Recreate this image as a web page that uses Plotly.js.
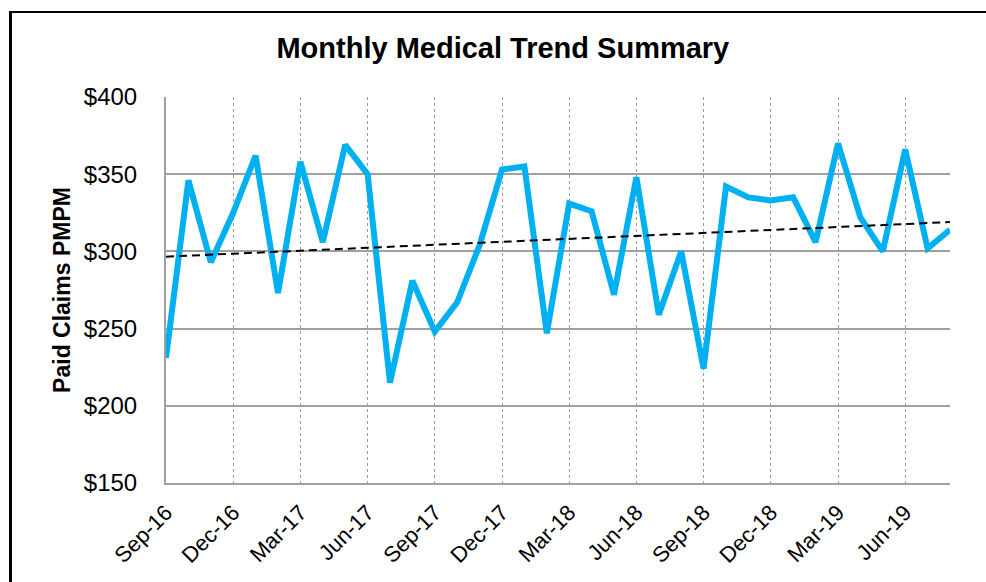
<!DOCTYPE html>
<html>
<head>
<meta charset="utf-8">
<script src="https://cdn.plot.ly/plotly-3.0.1.min.js"></script>
<style>
html,body{margin:0;padding:0;background:#fff;}
#wrap{position:relative;width:986px;height:582px;overflow:hidden;}
#chart{width:986px;height:582px;}
#frame{position:absolute;left:9px;top:11px;width:1000px;height:600px;border-left:3px solid #000;border-top:2px solid #000;pointer-events:none;}
</style>
</head>
<body>
<div id="wrap"><div id="chart"></div><div id="frame"></div></div>
<script>
const months = ["Sep-16","Oct-16","Nov-16","Dec-16","Jan-17","Feb-17","Mar-17","Apr-17","May-17","Jun-17","Jul-17","Aug-17",
"Sep-17","Oct-17","Nov-17","Dec-17","Jan-18","Feb-18","Mar-18","Apr-18","May-18","Jun-18","Jul-18","Aug-18",
"Sep-18","Oct-18","Nov-18","Dec-18","Jan-19","Feb-19","Mar-19","Apr-19","May-19","Jun-19","Jul-19","Aug-19"];
const paidClaims = [231,346,293,325,362,273,358,306,369,350,215,281,
248,267,304,353,355,247,331,326,272,348,259,300,
224,342,335,333,335,306,370,322,300,366,302,314];
const tickLabels = ["Sep-16","Dec-16","Mar-17","Jun-17","Sep-17","Dec-17","Mar-18","Jun-18","Sep-18","Dec-18","Mar-19","Jun-19"];
// linear trendline, endpoints
const trendMonths = ["Sep-16","Aug-19"];
const trendValues = [296.6, 319];

const font = "Liberation Sans, Arial, sans-serif";
const data = [
 {x: months, y: paidClaims, type:'scatter', mode:'lines', line:{color:'#00B0F0', width:6}, hoverinfo:'x+y'},
 {x: trendMonths, y: trendValues, type:'scatter', mode:'lines', line:{color:'#000', width:2, dash:'8px,5px'}, hoverinfo:'skip'}
];
const layout = {
 width:986, height:582,
 margin:{l:166, r:36, t:97, b:99},
 paper_bgcolor:'#fff', plot_bgcolor:'#fff',
 showlegend:false,
 title:{text:'<b>Monthly Medical Trend Summary</b>', font:{family:font, size:29, color:'#000'}, x:0.51, xref:'container', y:0.918, yref:'container', yanchor:'middle'},
 xaxis:{type:'category', categoryarray: months, range:[0, months.length-1], tickvals: tickLabels, ticktext: tickLabels,
   tickangle:-45, tickfont:{family:font, size:22, color:'#000'}, ticklabelstandoff:6,
   showgrid:true, gridcolor:'#9a9a9a', gridwidth:1, griddash:'dot',
   showline:true, linecolor:'#a0a0a0', linewidth:2, ticks:'', zeroline:false, fixedrange:true},
 yaxis:{range:[150,400], dtick:50, tickprefix:'$', tickfont:{family:font, size:24, color:'#000'}, ticklabelstandoff:22,
   showgrid:true, gridcolor:'#a0a0a0', gridwidth:2, showline:true, linecolor:'#a0a0a0', linewidth:2, ticks:'',
   zeroline:false, fixedrange:true,
   title:{text:'<b>Paid Claims PMPM</b>', font:{family:font, size:23, color:'#000'}, standoff:7}}
};
Plotly.newPlot('chart', data, layout, {displayModeBar:false, staticPlot:true});
</script>
</body>
</html>
